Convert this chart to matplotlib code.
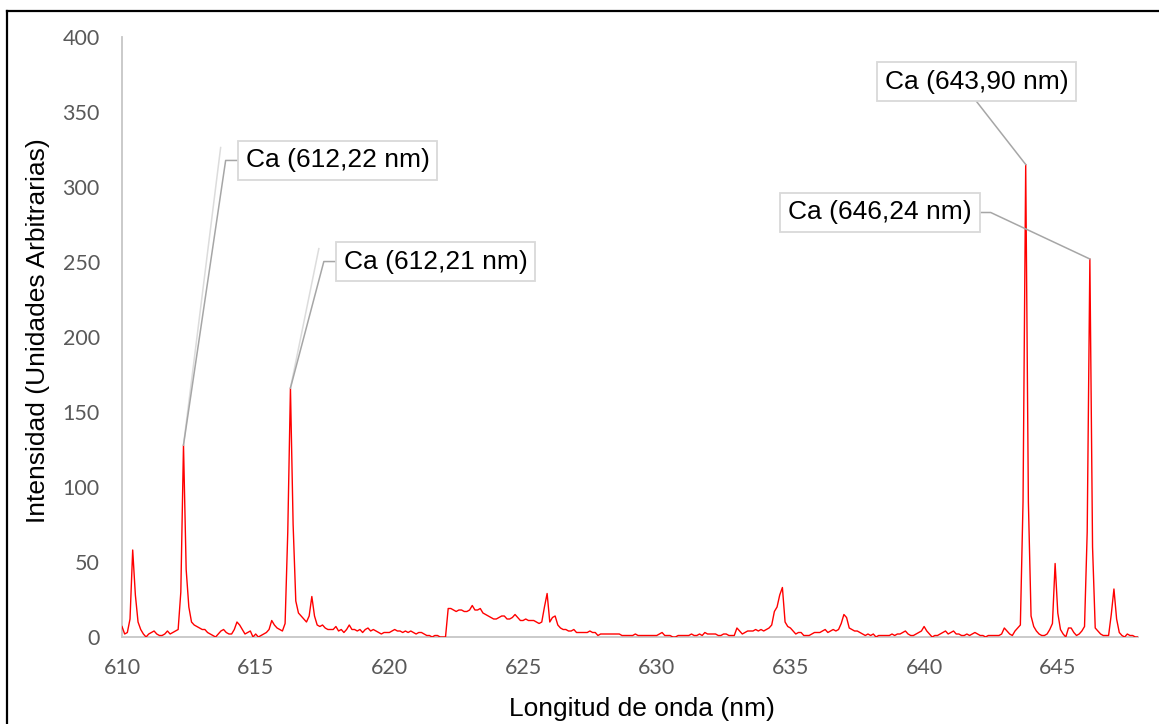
import numpy as np
import matplotlib
matplotlib.use("Agg")
import matplotlib.pyplot as plt
from matplotlib.lines import Line2D

# Espectro de emisión: intensidad cada 0,1 nm desde 610,0 nm (una fila por nm)
wl_start = 610.0
wl_step = 0.1
intensity_rows = [
    [7, 2, 3, 12, 58, 28, 10, 5, 2, 0],           # 610
    [2, 3, 4, 2, 1, 1, 2, 4, 2, 3],               # 611
    [4, 5, 30, 128, 45, 20, 10, 8, 7, 6],         # 612
    [5, 5, 3, 2, 1, 0, 2, 4, 5, 3],               # 613
    [2, 2, 5, 10, 8, 5, 2, 3, 4, 0],              # 614
    [2, 0, 1, 2, 3, 5, 11, 8, 6, 5],              # 615
    [4, 9, 70, 166, 75, 24, 16, 14, 12, 10],      # 616
    [14, 27, 14, 8, 7, 8, 6, 5, 5, 5],            # 617
    [7, 4, 5, 3, 5, 8, 5, 5, 4, 5],               # 618
    [3, 5, 6, 4, 5, 4, 3, 2, 3, 3],               # 619
    [3, 4, 5, 4, 4, 3, 4, 3, 4, 3],               # 620
    [2, 3, 3, 2, 1, 1, 0, 1, 1, 0],               # 621
    [0, 0, 19, 19, 18, 17, 18, 18, 17, 17],       # 622
    [18, 21, 18, 18, 19, 16, 15, 14, 13, 12],     # 623
    [12, 13, 14, 14, 12, 12, 13, 15, 13, 11],     # 624
    [11, 12, 11, 11, 11, 10, 9, 10, 20, 29],      # 625
    [10, 13, 14, 8, 6, 5, 5, 4, 4, 5],            # 626
    [3, 3, 3, 3, 3, 4, 3, 3, 1, 2],               # 627
    [2, 2, 2, 2, 2, 2, 2, 1, 1, 1],               # 628
    [1, 1, 2, 1, 1, 1, 1, 1, 1, 1],               # 629
    [1, 2, 3, 1, 1, 1, 0, 0, 1, 1],               # 630
    [1, 1, 1, 2, 1, 1, 2, 1, 3, 2],               # 631
    [2, 2, 2, 1, 1, 2, 2, 1, 1, 1],               # 632
    [6, 4, 2, 3, 4, 4, 4, 5, 4, 5],               # 633
    [4, 5, 6, 8, 17, 20, 28, 33, 10, 7],          # 634
    [6, 4, 2, 3, 3, 1, 1, 1, 2, 3],               # 635
    [3, 3, 4, 5, 3, 4, 5, 4, 5, 9],               # 636
    [15, 13, 6, 5, 4, 4, 3, 2, 1, 2],             # 637
    [1, 2, 0, 1, 1, 1, 1, 1, 2, 1],               # 638
    [2, 2, 3, 4, 2, 1, 1, 2, 3, 4],               # 639
    [7, 4, 2, 0, 1, 1, 2, 3, 4, 2],               # 640
    [3, 4, 2, 2, 1, 1, 2, 1, 2, 3],               # 641
    [2, 1, 1, 0, 1, 1, 1, 1, 1, 2],               # 642
    [6, 4, 2, 1, 4, 6, 8, 90, 315, 90],           # 643
    [14, 7, 4, 2, 1, 1, 2, 5, 9, 49],             # 644
    [16, 5, 2, 0, 6, 6, 3, 1, 2, 4],              # 645
    [7, 70, 252, 60, 6, 4, 2, 1, 1, 1],           # 646
    [15, 32, 12, 3, 1, 0, 2, 1, 1, 0],            # 647
]
intensity_end = [0]                               # 648,0

intensity = np.array(sum(intensity_rows, []) + intensity_end, dtype=float)
wavelength = np.round(wl_start + wl_step * np.arange(len(intensity)), 1)

# Líneas de Ca señaladas
line_labels = ["Ca (612,22 nm)", "Ca (612,21 nm)", "Ca (643,90 nm)", "Ca (646,24 nm)"]
line_peaks = [612.3, 616.3, 643.8, 646.2]
label_pos = [(618.06, 317.7), (621.73, 250.3), (641.96, 370.3), (638.35, 283.0)]
leader_side = ["left", "left", "bottom", "right"]

x_ticks = [610, 615, 620, 625, 630, 635, 640, 645]
y_ticks = [0, 50, 100, 150, 200, 250, 300, 350, 400]

W, H = 1159, 724
fig = plt.figure(figsize=(W / 100, H / 100), dpi=100)
ax = fig.add_axes([122 / W, 1 - 637 / H, (1138 - 122) / W, 600 / H])

# la traza va por encima de los ejes para que los tramos en cero se vean
ax.plot(wavelength, intensity, color="#ff0000", lw=1.0, zorder=3)

ax.set_xlim(610, 648)
ax.set_ylim(0, 400)
ax.set_xticks(x_ticks)
ax.set_yticks(y_ticks)

for s in ["top", "right"]:
    ax.spines[s].set_visible(False)
for s in ["left", "bottom"]:
    ax.spines[s].set_color("#c6c6c6")
    ax.spines[s].set_linewidth(1.3)

ax.tick_params(axis="both", length=0, labelsize=15.5, labelcolor="#595959")
ax.tick_params(axis="x", pad=15)
ax.tick_params(axis="y", pad=16)
for lab in ax.get_xticklabels() + ax.get_yticklabels():
    lab.set_family("Lato")

ax.set_xlabel("Longitud de onda (nm)", family="Liberation Sans", fontsize=19, color="black")
ax.set_ylabel("Intensidad (Unidades Arbitrarias)", family="Liberation Sans", fontsize=19, color="black")
ax.xaxis.set_label_coords((642 - 122) / 1016, -(716 - 637) / 600)
ax.xaxis.label.set_va("baseline")
ax.yaxis.set_label_coords((50 - 122) / 1016, (637 - 331) / 600)

texts = []
for txt, (bx, by) in zip(line_labels, label_pos):
    t = ax.text(bx, by, txt, ha="center", va="center", fontsize=19,
                family="Liberation Sans", color="black", zorder=5,
                bbox=dict(boxstyle="square,pad=0.3", fc="white",
                          ec="#d9d9d9", lw=1.3))
    texts.append(t)

# líneas guía desde cada recuadro hasta el máximo del pico
fig.canvas.draw()
renderer = fig.canvas.get_renderer()
to_data = ax.transData.inverted()
for t, side, pk in zip(texts, leader_side, line_peaks):
    bb = t.get_bbox_patch().get_window_extent(renderer)
    near = np.abs(wavelength - pk) <= 0.15
    i = np.flatnonzero(near)[np.argmax(intensity[near])]
    tip = ax.transData.transform((wavelength[i], intensity[i]))
    ymid = (bb.y0 + bb.y1) / 2
    if side == "left":
        ghost = np.array([(bb.x0 - 17, bb.y1 - 7), tip])
        g = to_data.transform(ghost)
        ax.plot(g[:, 0], g[:, 1], color="#dcdcdc", lw=1.1, zorder=4)
        pts = np.array([(bb.x0, ymid), (bb.x0 - 12, ymid), tip])
    elif side == "right":
        pts = np.array([(bb.x1, ymid), (bb.x1 + 11, ymid), tip])
    else:
        pts = np.array([((bb.x0 + bb.x1) / 2, bb.y0), tip])
    d = to_data.transform(pts)
    ax.plot(d[:, 0], d[:, 1], color="#a6a6a6", lw=1.1, zorder=4)

# marco exterior
fig.add_artist(Line2D([7 / W, 1.0], [1 - 11 / H, 1 - 11 / H], transform=fig.transFigure,
                      color="black", lw=1.6))
fig.add_artist(Line2D([7 / W, 7 / W], [0.0, 1 - 11 / H], transform=fig.transFigure,
                      color="black", lw=1.6))

fig.savefig("out.png", dpi=100)
